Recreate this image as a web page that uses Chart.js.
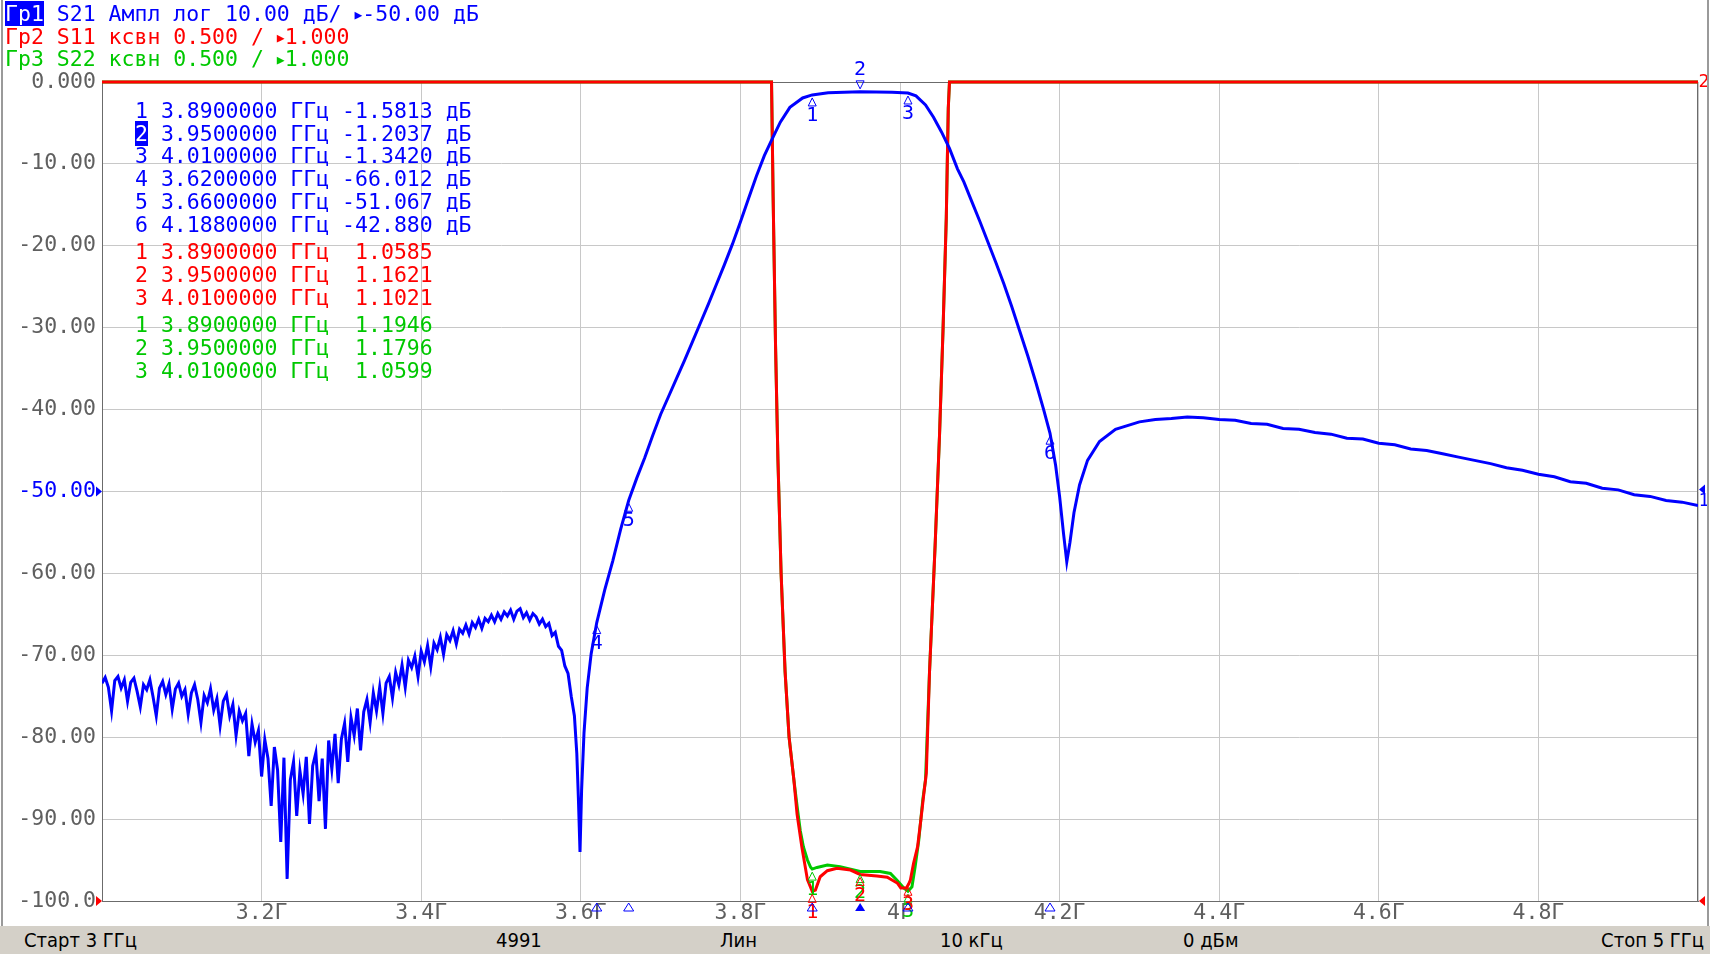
<!DOCTYPE html>
<html>
<head>
<meta charset="utf-8">
<script src="https://cdn.jsdelivr.net/npm/chart.js@4.4.1/dist/chart.umd.min.js"></script>
<style>
  html, body { margin: 0; padding: 0; background: #fff; }
  #wrap { position: relative; width: 1710px; height: 954px; overflow: hidden; background: #fff; }
  #grafik { position: absolute; left: 0; top: 0; }
  .mono { font-family: "DejaVu Sans Mono", monospace; font-size: 21.5px; }
  .mono div { white-space: pre; }
  #header { position: absolute; left: 5px; top: 3px; line-height: 21.6px; }
  #header .act { background: #0000ff; color: #fff; }
  #header .tri { font-size: 13px; vertical-align: 2px; }
  #markers { position: absolute; left: 135px; top: 100px; line-height: 22.7px; }
  #markers .act { background: #0000ff; color: #fff; }
  #markers .gap { height: 5px; }
  #status { position: absolute; left: 0; top: 926px; width: 1710px; height: 28px; background: #d4d0c8;
            font-family: "Liberation Sans Narrow", "DejaVu Sans Condensed", sans-serif; font-size: 20px; line-height: 28px; color: #000; }
  #status span { position: absolute; top: 0; white-space: pre; }
  .frame { position: absolute; top: 0; width: 2px; height: 926px; background: #9a9a9a; }
</style>
</head>
<body>
<div id="wrap">
  <canvas id="grafik" width="1710" height="926"></canvas>
  <div class="frame" style="left:1px"></div>
  <div class="frame" style="left:1707px"></div>
  <div id="header" class="mono"><div><span class="act">Гр1</span><span style="color:#0000ff"> S21 Ампл лог 10.00 дБ/ <span class="tri">▶</span>-50.00 дБ</span></div><div style="color:#ff0000">Гр2 S11 ксвн 0.500 / <span class="tri">▶</span>1.000</div><div style="color:#00c800">Гр3 S22 ксвн 0.500 / <span class="tri">▶</span>1.000</div></div>
  <div id="markers" class="mono"></div>
  <div id="status">
    <span style="left:24px">Старт 3 ГГц</span>
    <span style="left:496px">4991</span>
    <span style="left:720px">Лин</span>
    <span style="left:940px">10 кГц</span>
    <span style="left:1183px">0 дБм</span>
    <span style="right:6px">Стоп 5 ГГц</span>
  </div>
</div>
<script>
// Ось частот (ГГц) и сетка
const freqTicks = [3.0, 3.2, 3.4, 3.6, 3.8, 4.0, 4.2, 4.4, 4.6, 4.8, 5.0];

// S21, дБ
const s21Freq = [
  3.000, 3.004, 3.008, 3.012, 3.016, 3.020, 3.024, 3.028, 3.032, 3.036, 3.040, 3.044, 3.048, 3.052, 3.056, 3.060,
  3.064, 3.068, 3.072, 3.076, 3.080, 3.084, 3.088, 3.092, 3.096, 3.100, 3.104, 3.108, 3.112, 3.116, 3.120, 3.124,
  3.128, 3.132, 3.136, 3.140, 3.144, 3.148, 3.152, 3.156, 3.160, 3.164, 3.168, 3.172, 3.176, 3.180, 3.184, 3.188,
  3.192, 3.196, 3.200, 3.204, 3.208, 3.212, 3.216, 3.220, 3.224, 3.228, 3.232, 3.236, 3.240, 3.244, 3.248, 3.252,
  3.256, 3.260, 3.264, 3.268, 3.272, 3.276, 3.280, 3.284, 3.288, 3.292, 3.296, 3.300, 3.304, 3.308, 3.312, 3.316,
  3.320, 3.324, 3.328, 3.332, 3.336, 3.340, 3.344, 3.348, 3.352, 3.356, 3.360, 3.364, 3.368, 3.372, 3.376, 3.380,
  3.384, 3.388, 3.392, 3.396, 3.400, 3.404, 3.408, 3.412, 3.416, 3.420, 3.424, 3.428, 3.432, 3.436, 3.440, 3.444,
  3.448, 3.452, 3.456, 3.460, 3.464, 3.468, 3.472, 3.476, 3.480, 3.484, 3.488, 3.492, 3.496, 3.500, 3.504, 3.508,
  3.512, 3.516, 3.520, 3.524, 3.528, 3.532, 3.536, 3.540, 3.544, 3.548, 3.552, 3.556, 3.560, 3.564, 3.568, 3.572,
  3.576, 3.580, 3.584, 3.588, 3.592, 3.595, 3.597, 3.599, 3.601, 3.604, 3.608, 3.613, 3.620, 3.630, 3.640, 3.650,
  3.660, 3.670, 3.680, 3.690, 3.700, 3.710, 3.720, 3.730, 3.740, 3.750, 3.760, 3.770, 3.780, 3.790, 3.800, 3.810,
  3.820, 3.830, 3.840, 3.850, 3.862, 3.878, 3.890, 3.910, 3.930, 3.950, 3.970, 3.990, 4.010, 4.020, 4.032, 4.042,
  4.052, 4.062, 4.072, 4.080, 4.090, 4.100, 4.110, 4.120, 4.130, 4.140, 4.150, 4.160, 4.170, 4.180, 4.188, 4.195,
  4.200, 4.205, 4.209, 4.213, 4.218, 4.225, 4.235, 4.250, 4.270, 4.300, 4.320, 4.340, 4.360, 4.380, 4.400, 4.420,
  4.440, 4.460, 4.480, 4.500, 4.520, 4.540, 4.560, 4.580, 4.600, 4.620, 4.640, 4.660, 4.680, 4.700, 4.720, 4.740,
  4.760, 4.780, 4.800, 4.820, 4.840, 4.860, 4.880, 4.900, 4.920, 4.940, 4.960, 4.980, 5.000
];
const s21Db = [
  -73.4, -72.7, -73.9, -76.8, -73.1, -72.6, -74.0, -73.0, -75.6, -73.3, -72.8, -74.4, -76.3, -73.6, -74.2, -73.0,
  -75.1, -77.4, -74.0, -73.2, -74.8, -73.5, -76.6, -74.1, -73.4, -75.0, -74.2, -77.2, -74.6, -73.6, -75.4, -78.2,
  -74.9, -75.8, -74.1, -76.7, -75.3, -78.6, -75.6, -74.8, -77.4, -76.0, -79.8, -76.8, -78.0, -77.1, -82.3, -78.4,
  -80.6, -79.2, -84.8, -80.3, -82.6, -88.4, -81.2, -84.0, -92.8, -82.5, -97.3, -85.2, -83.0, -89.6, -84.1, -86.9,
  -82.4, -90.6, -83.5, -81.9, -87.8, -82.6, -91.2, -80.4, -83.9, -79.6, -85.6, -80.2, -78.3, -83.0, -77.6, -79.8,
  -76.5, -81.6, -76.9, -75.4, -78.2, -74.6, -76.8, -73.9, -77.1, -73.4, -72.6, -75.2, -72.1, -73.6, -71.2, -73.9,
  -70.6, -71.5, -70.1, -72.6, -69.5, -70.8, -68.8, -71.4, -68.5, -69.3, -67.8, -69.9, -67.5, -68.2, -67.0, -68.6,
  -66.8, -67.3, -66.3, -67.4, -66.0, -66.6, -65.6, -66.7, -65.5, -65.9, -65.1, -65.9, -64.9, -65.6, -64.7, -65.2,
  -64.5, -65.6, -64.6, -64.3, -65.4, -64.8, -65.7, -64.9, -65.3, -66.2, -65.6, -66.5, -66.1, -67.6, -67.2, -68.9,
  -69.4, -71.3, -72.2, -75.0, -77.4, -82.0, -87.5, -94.0, -86.5, -79.5, -74.0, -69.8, -66.0, -62.0, -58.5, -54.6,
  -51.1, -48.4, -45.9, -43.2, -40.6, -38.4, -36.2, -34.0, -31.7, -29.4, -27.1, -24.7, -22.3, -19.8, -17.1, -14.3,
  -11.5, -9.0, -6.9, -4.9, -3.1, -1.95, -1.58, -1.32, -1.24, -1.20, -1.21, -1.25, -1.34, -1.7, -2.8, -4.3,
  -6.1, -8.1, -10.6, -12.2, -14.6, -17.0, -19.5, -22.0, -24.6, -27.4, -30.4, -33.4, -36.6, -40.0, -42.9, -46.8,
  -50.6, -55.2, -58.6, -56.2, -52.6, -49.2, -46.2, -43.9, -42.4, -41.5, -41.2, -41.1, -40.9, -41.0, -41.2, -41.3,
  -41.7, -41.8, -42.3, -42.4, -42.8, -43.0, -43.5, -43.6, -44.1, -44.3, -44.8, -45.0, -45.4, -45.8, -46.2, -46.6,
  -47.1, -47.4, -47.9, -48.2, -48.8, -49.0, -49.6, -49.8, -50.4, -50.6, -51.1, -51.3, -51.7
];

// S11, КСВН (6.0 = верх сетки)
const s11Freq = [3.000, 3.839, 3.841, 3.844, 3.847, 3.851, 3.856, 3.861, 3.867, 3.871, 3.877, 3.884, 3.890, 3.894,
  3.900, 3.909, 3.921, 3.938, 3.950, 3.971, 3.984, 3.997, 4.001, 4.008, 4.011, 4.013, 4.017, 4.022, 4.026, 4.030,
  4.033, 4.037, 4.044, 4.0495, 4.054, 4.058, 4.0605, 4.062, 5.000];
const s11Vswr = [6.0, 6.0, 5.3, 4.4, 3.7, 3.0, 2.4, 2.0, 1.74, 1.53, 1.33, 1.13, 1.059, 1.067,
  1.148, 1.185, 1.200, 1.189, 1.162, 1.153, 1.145, 1.108, 1.080, 1.080, 1.105, 1.128, 1.23, 1.33, 1.49, 1.66,
  1.78, 2.4, 3.17, 3.84, 4.5, 5.17, 5.84, 6.0, 6.0];

// S22, КСВН
const s22Freq = [3.000, 3.839, 3.841, 3.844, 3.847, 3.851, 3.856, 3.861, 3.867, 3.871, 3.875, 3.879, 3.884, 3.888,
  3.890, 3.896, 3.909, 3.925, 3.950, 3.975, 3.988, 3.996, 4.005, 4.010, 4.015, 4.019, 4.0235, 4.0286, 4.032,
  4.037, 4.044, 4.0495, 4.054, 4.058, 4.0605, 4.062, 5.000];
const s22Vswr = [6.0, 6.0, 5.3, 4.4, 3.7, 3.0, 2.4, 2.0, 1.74, 1.58, 1.43, 1.33, 1.25, 1.206,
  1.195, 1.205, 1.22, 1.21, 1.18, 1.18, 1.168, 1.128, 1.078, 1.06, 1.087, 1.21, 1.37, 1.62, 1.74,
  2.4, 3.17, 3.84, 4.5, 5.17, 5.84, 6.0, 6.0];

// маркеры
const s21MarkerFreq = [3.89, 3.95, 4.01, 3.62, 3.66, 4.188];
const s21MarkerDb = [-1.5813, -1.2037, -1.3420, -66.012, -51.067, -42.880];
const vswrMarkerFreq = [3.89, 3.95, 4.01];
const s11MarkerVswr = [1.0585, 1.1621, 1.1021];
const s22MarkerVswr = [1.1946, 1.1796, 1.0599];
const activeMarker = 2;

const BLUE = '#0000ff', RED = '#ff0000', GREEN = '#00c800';

// таблица маркеров
function markerRow(n, f, v, color, unit) {
  const num = n === activeMarker && color === BLUE ? `<span class="act">${n}</span>` : `${n}`;
  return `<div style="color:${color}">${num} ${f.toFixed(7)} ГГц ${v.toPrecision(5).padStart(7)}${unit}</div>`;
}
let html = '';
s21MarkerFreq.forEach((f, i) => { html += markerRow(i + 1, f, s21MarkerDb[i], BLUE, ' дБ'); });
html += '<div class="gap"></div>';
vswrMarkerFreq.forEach((f, i) => { html += markerRow(i + 1, f, s11MarkerVswr[i], RED, ''); });
html += '<div class="gap"></div>';
vswrMarkerFreq.forEach((f, i) => { html += markerRow(i + 1, f, s22MarkerVswr[i], GREEN, ''); });
document.getElementById('markers').innerHTML = html;

const FONT = '"DejaVu Sans Mono", monospace';

function tri(ctx, x, y, w, h, dir, fill) {
  // dir: 'up' | 'down' | 'left' | 'right' ; (x,y) = остриё
  ctx.beginPath();
  ctx.moveTo(x, y);
  if (dir === 'up') { ctx.lineTo(x - w / 2, y + h); ctx.lineTo(x + w / 2, y + h); }
  if (dir === 'down') { ctx.lineTo(x - w / 2, y - h); ctx.lineTo(x + w / 2, y - h); }
  if (dir === 'left') { ctx.lineTo(x + h, y - w / 2); ctx.lineTo(x + h, y + w / 2); }
  if (dir === 'right') { ctx.lineTo(x - h, y - w / 2); ctx.lineTo(x - h, y + w / 2); }
  ctx.closePath();
  if (fill) ctx.fill(); else ctx.stroke();
}

const framePlugin = {
  id: 'frame',
  beforeDatasetsDraw(chart) {
    const { ctx, chartArea: a } = chart;
    ctx.save();
    ctx.strokeStyle = '#6b6b6b';
    ctx.lineWidth = 1;
    ctx.strokeRect(a.left + 0.5, a.top + 0.5, a.right - a.left - 1, a.bottom - a.top);
    ctx.restore();
  }
};

const markerPlugin = {
  id: 'markers',
  afterDatasetsDraw(chart) {
    const { ctx, chartArea: a } = chart;
    const x = chart.scales.x, y = chart.scales.y, yv = chart.scales.yv;
    ctx.save();
    ctx.lineWidth = 1;
    ctx.font = '20px ' + FONT;
    ctx.textAlign = 'center';
    ctx.textBaseline = 'middle';

    const mark = (px, py, n, color, active) => {
      ctx.strokeStyle = color; ctx.fillStyle = color;
      if (active) {
        tri(ctx, px, py - 3, 8, 8, 'down', false);
        ctx.fillText(String(n), px, py - 22);
      } else {
        tri(ctx, px, py + 3, 8, 8, 'up', false);
        ctx.fillText(String(n), px, py + 21);
      }
    };
    s21MarkerFreq.forEach((f, i) => {
      mark(x.getPixelForValue(f), y.getPixelForValue(s21MarkerDb[i]), i + 1, BLUE, i + 1 === activeMarker);
    });
    vswrMarkerFreq.forEach((f, i) => {
      mark(x.getPixelForValue(f), yv.getPixelForValue(s22MarkerVswr[i]), i + 1, GREEN, false);
      mark(x.getPixelForValue(f), yv.getPixelForValue(s11MarkerVswr[i]), i + 1, RED, false);
    });

    // метки маркеров на оси частот
    ctx.strokeStyle = BLUE; ctx.fillStyle = BLUE;
    s21MarkerFreq.forEach((f, i) => {
      tri(ctx, x.getPixelForValue(f), a.bottom + 2, 10, 8, 'up', i + 1 === activeMarker);
    });

    // указатели опорного уровня
    ctx.fillStyle = BLUE;
    tri(ctx, a.left, y.getPixelForValue(-50), 10, 6, 'right', true);
    tri(ctx, a.right + 1, y.getPixelForValue(-50) - 2, 10, 6, 'left', true);
    ctx.font = '18px ' + FONT;
    ctx.fillText('1', a.right + 6, y.getPixelForValue(-50) + 10);
    ctx.fillStyle = RED;
    tri(ctx, a.left, a.bottom, 10, 6, 'right', true);
    tri(ctx, a.right + 1, a.bottom, 10, 6, 'left', true);
    ctx.fillText('2', a.right + 6, a.top);
    ctx.restore();
  }
};

const ctx = document.getElementById('grafik').getContext('2d');
new Chart(ctx, {
  type: 'line',
  data: {
    datasets: [
      { label: 'S21', data: s21Freq.map((f, i) => ({ x: f, y: s21Db[i] })), yAxisID: 'y',
        borderColor: BLUE, borderWidth: 3, pointRadius: 0, tension: 0 },
      { label: 'S11', data: s11Freq.map((f, i) => ({ x: f, y: s11Vswr[i] })), yAxisID: 'yv',
        borderColor: RED, borderWidth: 3, pointRadius: 0, tension: 0, clip: 4 },
      { label: 'S22', data: s22Freq.map((f, i) => ({ x: f, y: s22Vswr[i] })), yAxisID: 'yv',
        borderColor: GREEN, borderWidth: 3, pointRadius: 0, tension: 0, clip: 4 }
    ]
  },
  options: {
    responsive: false,
    animation: false,
    layout: { padding: { top: 82, right: 12, left: 0, bottom: 0 } },
    plugins: { legend: { display: false }, tooltip: { enabled: false } },
    scales: {
      x: {
        type: 'linear', min: 3, max: 5,
        afterBuildTicks: s => { s.ticks = freqTicks.map(v => ({ value: v })); },
        afterFit: s => { s.height = 25; },
        grid: { color: '#c8c8c8', drawTicks: false },
        border: { color: '#6b6b6b' },
        ticks: {
          padding: 0, color: '#5f5f5f', maxRotation: 0, autoSkip: false,
          font: { family: FONT, size: 21.5 },
          callback: v => (v === 3 || v === 5) ? '' : (v === 4 ? '4' : v.toFixed(1)) + 'Г'
        }
      },
      y: {
        min: -100, max: 0,
        afterFit: s => { s.width = 102; },
        grid: { color: '#c8c8c8', drawTicks: false },
        border: { color: '#6b6b6b' },
        ticks: {
          stepSize: 10, padding: 6,
          font: { family: FONT, size: 21.5 },
          color: c => c.tick.value === -50 ? BLUE : '#5f5f5f',
          callback: v => v === 0 ? '0.000' : (v === -100 ? '-100.0' : v.toFixed(2))
        }
      },
      yv: { display: false, min: 1, max: 6 }
    }
  },
  plugins: [framePlugin, markerPlugin]
});
</script>
</body>
</html>
